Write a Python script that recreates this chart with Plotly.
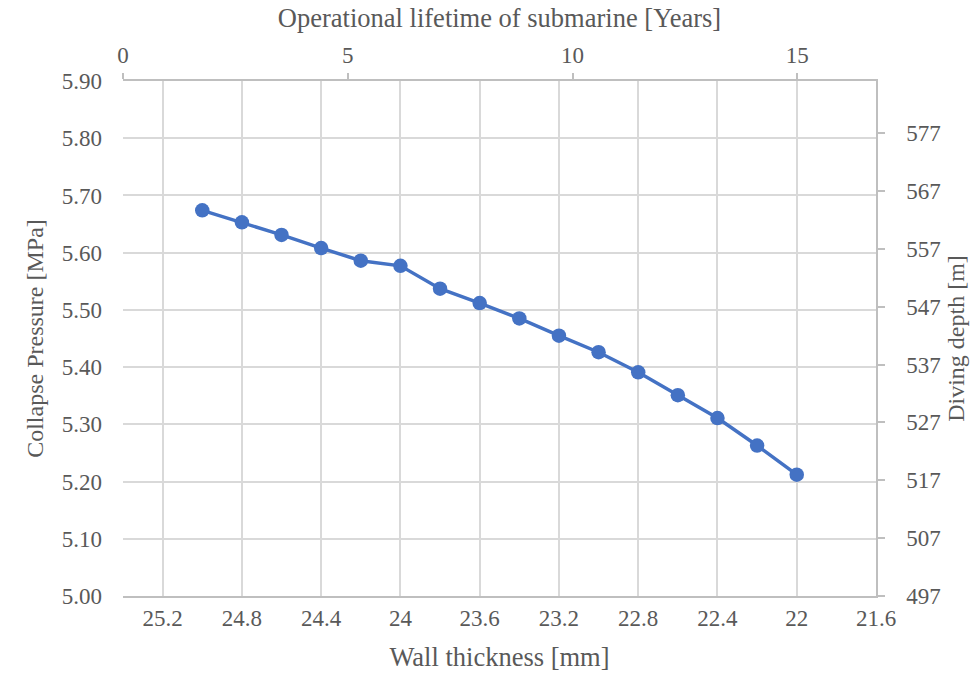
import plotly.graph_objects as go

# Wall thickness (mm) and the corresponding collapse pressure (MPa)
wall_thickness = [25.0, 24.8, 24.6, 24.4, 24.2, 24.0, 23.8, 23.6,
                  23.4, 23.2, 23.0, 22.8, 22.6, 22.4, 22.2, 22.0]
collapse_pressure = [5.674, 5.653, 5.631, 5.608, 5.586, 5.577, 5.537, 5.512,
                     5.485, 5.455, 5.426, 5.391, 5.351, 5.311, 5.263, 5.212]

# Tick labels
thickness_ticks = [25.2, 24.8, 24.4, 24.0, 23.6, 23.2, 22.8, 22.4, 22.0, 21.6]
thickness_labels = ["25.2", "24.8", "24.4", "24", "23.6", "23.2", "22.8", "22.4", "22", "21.6"]
pressure_ticks = [5.0, 5.1, 5.2, 5.3, 5.4, 5.5, 5.6, 5.7, 5.8, 5.9]
years_ticks = [0, 5, 10, 15]
depth_ticks = [497, 507, 517, 527, 537, 547, 557, 567, 577]

FONT = "Liberation Serif"
TEXT = "#595959"
GRID = "#d9d9d9"
AXIS = "#bfbfbf"
BLUE = "#4472C4"

fig = go.Figure()
fig.add_trace(go.Scatter(
    x=wall_thickness, y=collapse_pressure, mode="lines+markers",
    line=dict(color=BLUE, width=3.5),
    marker=dict(color=BLUE, size=14.5),
    showlegend=False,
))
# secondary axes (lifetime on top, diving depth on the right)
fig.add_trace(go.Scatter(x=[], y=[], xaxis="x2", yaxis="y2", showlegend=False))

fig.update_layout(
    width=979, height=674,
    margin=dict(l=123, r=103, t=81, b=78),
    paper_bgcolor="white", plot_bgcolor="white",
    font=dict(family=FONT, color=TEXT, size=23),
    xaxis=dict(
        range=[25.4, 21.6], tickvals=thickness_ticks, ticktext=thickness_labels,
        showgrid=True, gridcolor=GRID, gridwidth=1.5,
        showline=True, linecolor=AXIS, linewidth=1.5,
        ticks="", zeroline=False, ticklabelstandoff=1, automargin=False,
        title=dict(text="Wall thickness [mm]", font=dict(size=26.5), standoff=17),
    ),
    yaxis=dict(
        range=[5.0, 5.9], tickvals=pressure_ticks, tickformat=".2f",
        showgrid=True, gridcolor=GRID, gridwidth=1.5,
        showline=False, ticks="", zeroline=False, ticklabelstandoff=20, automargin=False,
        title=dict(text="Collapse Pressure [MPa]", font=dict(size=24), standoff=11),
    ),
    xaxis2=dict(
        overlaying="x", side="top", range=[0, 16.75], tickvals=years_ticks,
        showgrid=False, showline=True, linecolor=AXIS, linewidth=1.5,
        ticks="outside", ticklen=6, tickcolor=AXIS, tickwidth=1.5, zeroline=False,
        ticklabelstandoff=1, automargin=False,
        title=dict(text="Operational lifetime of submarine [Years]", font=dict(size=26.5), standoff=8),
    ),
    yaxis2=dict(
        overlaying="y", side="right", range=[497, 586], tickvals=depth_ticks,
        showgrid=False, showline=True, linecolor=AXIS, linewidth=1.5,
        ticks="outside", ticklen=7, tickcolor=AXIS, tickwidth=1.5, zeroline=False,
        ticklabelstandoff=17, automargin=False,
        title=dict(text="Diving depth [m]", font=dict(size=24), standoff=7),
    ),
)

fig.write_html("out.html")
